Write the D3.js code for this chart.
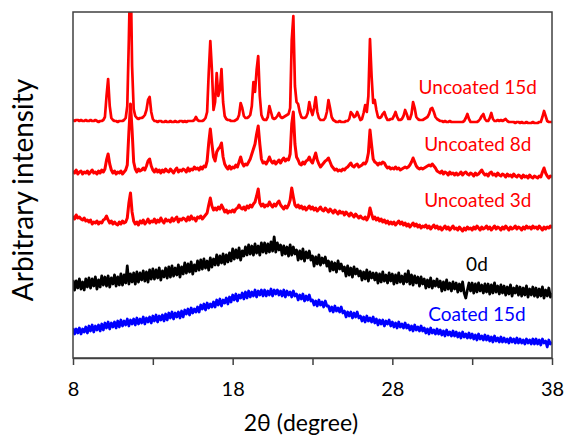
<!DOCTYPE html>
<html>
<head>
<meta charset="utf-8">
<script src="https://cdn.jsdelivr.net/npm/d3@7/dist/d3.min.js"></script>
<style>
  html, body { margin: 0; padding: 0; background: #fff; }
  svg { display: block; font-family: Lato, "Open Sans", sans-serif; }
</style>
</head>
<body>
<svg id="chart" width="565" height="436"></svg>
<script>
// 2θ scan: 8° to 38° in 0.1° steps (301 points per pattern)
const twoTheta = d3.range(301).map(i => +(8 + i * 0.1).toFixed(1));

// Intensities (arbitrary units, patterns stacked with offsets), one row per degree
const uncoated15d = [
  238,237,238,238,237,238,237,237,238,237,
  237,238,237,237,238,237,236,237,237,238,
  241,262,279,252,240,238,237,237,236,237,
  237,237,238,240,252,320,400,292,249,242,
  240,239,240,240,241,243,248,258,261,246,
  239,237,237,236,237,237,236,236,237,236,
  236,237,236,236,237,236,236,237,237,236,
  237,236,237,237,237,237,238,241,238,237,
  237,237,238,240,246,285,317,288,248,256,
  285,262,268,289,256,242,239,238,238,237,
  237,237,238,239,243,255,250,242,240,240,
  241,243,252,276,266,288,302,262,243,239,
  238,238,241,252,246,240,239,240,242,245,
  241,240,241,242,243,244,250,318,342,272,
  256,254,246,241,240,240,241,245,256,248,
  243,250,261,246,240,238,238,238,240,246,
  258,250,241,238,237,236,236,237,236,236,
  236,237,237,239,246,244,241,242,246,242,
  238,239,245,253,246,262,319,282,255,258,
  248,241,240,241,244,246,241,238,238,239,
  239,242,246,241,238,238,239,242,248,244,
  239,239,244,256,250,241,239,238,238,238,
  239,240,241,244,249,250,246,241,239,238,
  237,237,236,237,236,236,237,236,236,236,
  236,236,236,236,236,237,240,244,239,236,
  236,236,236,236,237,239,242,244,239,237,
  237,240,245,239,237,237,238,237,238,237,
  238,239,237,236,236,236,236,235,236,236,
  235,236,235,235,236,235,235,235,236,235,
  235,235,236,236,241,247,242,237,236,236,
  236
];

const uncoated8d = [
  187,185,188,184,186,187,184,186,185,187,
  184,186,188,185,186,184,187,185,188,186,
  189,198,204,194,188,185,187,184,186,185,
  187,184,186,188,193,226,254,228,196,189,
  186,189,187,188,190,188,192,197,199,192,
  188,186,189,186,188,185,188,186,189,187,
  186,189,187,185,188,190,186,188,187,189,
  188,186,190,187,189,188,191,189,190,188,
  191,189,192,191,197,215,229,214,201,197,
  206,209,211,215,201,194,191,189,192,189,
  191,190,193,191,196,201,195,192,194,193,
  196,199,204,209,214,224,232,214,199,195,
  196,194,197,201,197,195,197,194,196,198,
  195,198,200,197,199,198,204,234,246,214,
  201,198,194,193,196,194,197,198,201,197,
  195,200,205,198,194,191,193,195,197,198,
  200,196,192,190,188,189,187,188,187,189,
  188,190,191,193,195,192,191,193,194,191,
  192,193,195,194,197,205,228,213,199,196,
  195,193,195,194,196,195,192,190,191,189,
  190,189,191,189,190,188,189,190,191,190,
  191,193,196,200,196,192,190,189,190,189,
  190,191,192,193,192,194,192,190,187,186,
  185,187,184,186,185,183,186,184,185,183,
  185,183,184,186,183,185,186,184,183,185,
  184,182,185,183,184,186,188,185,183,184,
  182,185,186,183,184,182,185,183,182,184,
  183,181,184,182,183,181,184,182,181,183,
  182,180,183,181,182,180,183,181,180,182,
  181,180,182,181,186,190,185,182,180,182,
  181
];

const uncoated3d = [
  142,139,143,140,141,139,138,140,137,138,
  136,138,134,136,135,137,134,136,135,138,
  139,142,138,135,137,134,136,134,133,136,
  134,137,135,136,140,155,165,146,137,134,
  136,133,137,135,138,134,136,139,135,137,
  136,139,135,138,136,140,137,135,139,137,
  138,136,140,137,139,141,136,139,138,140,
  139,137,141,138,142,139,140,137,141,140,
  142,139,141,143,145,153,160,152,148,150,
  148,151,149,153,150,146,148,145,147,146,
  148,146,149,150,153,150,149,151,148,152,
  150,153,151,154,156,162,169,155,152,154,
  151,153,152,156,153,151,154,152,155,157,
  153,151,149,152,150,153,158,170,161,153,
  151,153,150,152,149,151,148,150,152,149,
  151,148,150,147,149,151,148,147,150,148,
  146,149,147,145,148,146,144,147,145,146,
  143,146,144,142,145,143,141,144,142,140,
  142,140,139,141,138,141,150,144,139,141,
  138,140,137,139,136,138,135,137,134,136,
  134,136,133,135,137,134,136,133,135,132,
  134,131,133,135,132,134,131,133,130,132,
  131,133,130,132,129,131,133,130,132,129,
  131,128,130,132,129,131,128,130,132,129,
  130,128,131,129,127,130,128,131,129,130,
  128,131,129,132,130,128,131,129,130,132,
  129,131,128,130,132,129,131,130,128,131,
  129,132,130,128,131,129,130,132,129,131,
  130,128,131,129,132,130,131,129,132,130,
  131,129,132,130,128,131,129,131,130,132,
  130
];

const day0 = [
  78,68,77,70,79,69,76,68,79,71,
  80,70,79,72,81,69,78,71,82,73,
  81,72,82,71,80,74,83,72,81,73,
  84,73,83,75,92,74,84,76,85,74,
  86,76,85,78,87,77,86,76,88,79,
  89,79,88,80,90,78,87,81,90,80,
  91,81,92,82,90,83,93,81,91,84,
  95,85,94,86,96,84,93,87,97,88,
  98,89,99,90,97,88,100,91,99,93,
  103,93,102,95,104,94,103,96,105,97,
  109,99,108,100,110,98,107,102,111,103,
  113,104,112,103,114,105,112,103,115,106,
  115,105,114,106,116,107,121,106,115,108,
  113,103,112,104,111,102,113,103,111,104,
  108,98,107,99,109,97,106,100,107,98,
  102,92,101,94,103,93,100,95,101,92,
  97,87,96,88,95,86,97,89,94,87,
  91,82,92,83,90,81,91,84,89,82,
  87,78,86,79,88,77,86,80,85,78,
  85,75,84,76,86,77,83,75,85,77,
  84,74,83,75,85,76,82,74,84,76,
  87,74,83,73,82,75,81,72,81,74,
  79,70,78,71,80,70,77,72,79,71,
  77,67,76,68,78,69,75,67,76,69,
  75,66,74,67,76,65,60,68,75,67,
  75,65,74,66,75,67,73,65,74,66,
  74,64,73,65,75,66,72,64,73,65,
  72,63,71,64,73,62,70,65,72,63,
  71,62,70,63,72,61,69,63,71,62,
  70,61,69,62,71,60,68,62,70,61,
  65
];

const coated15d = [
  30,24,29,25,30,24,29,26,31,25,
  32,27,33,26,32,28,33,27,34,28,
  35,30,36,29,35,31,36,30,37,31,
  38,32,37,33,39,32,38,34,39,33,
  40,34,39,35,41,34,40,36,41,35,
  42,37,43,36,42,38,43,37,44,38,
  45,40,46,39,45,41,46,40,47,41,
  48,44,49,43,50,45,49,46,51,46,
  53,49,54,48,55,50,54,51,56,51,
  58,53,59,52,58,55,60,54,61,56,
  63,58,64,57,63,60,65,59,66,60,
  67,61,66,62,68,61,67,63,68,62,
  68,62,67,63,69,62,68,64,68,63,
  67,62,68,61,67,63,66,61,67,62,
  64,58,63,59,64,57,62,58,63,57,
  58,53,57,52,58,53,56,51,57,52,
  52,47,51,46,52,47,50,46,51,45,
  47,41,46,42,46,40,45,41,46,40,
  42,37,41,36,42,37,40,36,41,35,
  39,33,38,34,38,32,37,34,38,32,
  36,31,35,30,36,31,34,30,35,30,
  33,28,32,27,33,28,31,27,32,27,
  30,25,29,24,30,25,28,24,29,24,
  28,23,27,22,28,23,26,22,27,22,
  26,21,25,20,26,21,24,20,25,20,
  24,19,23,18,24,19,22,18,23,18,
  22,17,21,16,22,17,20,16,21,16,
  20,16,19,15,20,16,19,15,20,15,
  19,15,18,14,19,15,18,14,19,14,
  19,14,18,13,19,15,17,11,18,14,
  16
];

const seriesNames = ["Uncoated 15d", "Uncoated 8d", "Uncoated 3d", "0d", "Coated 15d"];
const seriesValues = [uncoated15d, uncoated8d, uncoated3d, day0, coated15d];
const seriesColors = ["#ff0000", "#ff0000", "#ff0000", "#000000", "#0000ff"];
const seriesWidths = [2.7, 3.0, 3.0, 2.8, 2.8];
// label anchor positions in data units: [2θ, intensity]
const labelAnchors = [[33.35, 272], [33.35, 215], [33.35, 159], [33.3, 95], [33.3, 45]];

const xTicks = [8, 13, 18, 23, 28, 33, 38];
const xTickLabels = ["8", "", "18", "", "28", "", "38"];

(function draw() {
  const svg = d3.select("#chart");
  const plotLeft = 73, plotRight = 552, plotTop = 12, plotBottom = 358;

  const x = d3.scaleLinear().domain([8, 38]).range([plotLeft, plotRight]);
  const y = d3.scaleLinear().domain([0, 346]).range([plotBottom, plotTop]);

  svg.append("defs").append("clipPath").attr("id", "plotClip")
    .append("rect").attr("x", plotLeft).attr("y", plotTop)
    .attr("width", plotRight - plotLeft).attr("height", plotBottom - plotTop);

  const line = d3.line().x(d => x(d[0])).y(d => y(d[1]));

  const plot = svg.append("g").attr("clip-path", "url(#plotClip)");
  seriesValues.forEach((vals, k) => {
    plot.append("path")
      .datum(twoTheta.map((t, i) => [t, vals[i]]))
      .attr("fill", "none")
      .attr("stroke", seriesColors[k])
      .attr("stroke-width", seriesWidths[k])
      .attr("stroke-linejoin", "round")
      .attr("d", line);
  });

  // frame
  svg.append("rect")
    .attr("x", plotLeft).attr("y", plotTop)
    .attr("width", plotRight - plotLeft).attr("height", plotBottom - plotTop)
    .attr("fill", "none").attr("stroke", "#404040").attr("stroke-width", 1.5);

  // bottom axis
  const xAxis = d3.axisBottom(x).tickValues(xTicks)
    .tickFormat((d, i) => xTickLabels[i]).tickSizeInner(7).tickSizeOuter(0).tickPadding(17);
  const gx = svg.append("g").attr("transform", `translate(0,${plotBottom})`).call(xAxis);
  gx.select(".domain").attr("stroke", "#404040").attr("stroke-width", 1.5);
  gx.selectAll(".tick line").attr("stroke", "#404040").attr("stroke-width", 1.5);
  gx.selectAll(".tick text").attr("font-size", 20).attr("font-family", "Lato, sans-serif").attr("fill", "#000");

  // axis titles
  svg.append("text")
    .attr("x", 301).attr("y", 431)
    .attr("text-anchor", "middle")
    .attr("font-size", 23).attr("fill", "#000")
    .text("2θ (degree)");

  svg.append("text")
    .attr("transform", "translate(33,190) rotate(-90)")
    .attr("text-anchor", "middle")
    .attr("font-size", 28).attr("fill", "#000")
    .text("Arbitrary intensity");

  // series labels
  seriesNames.forEach((name, k) => {
    svg.append("text")
      .attr("x", x(labelAnchors[k][0]))
      .attr("y", y(labelAnchors[k][1]))
      .attr("text-anchor", "middle").attr("dominant-baseline", "central")
      .attr("font-size", 19).attr("fill", seriesColors[k])
      .text(name);
  });
})();
</script>
</body>
</html>
